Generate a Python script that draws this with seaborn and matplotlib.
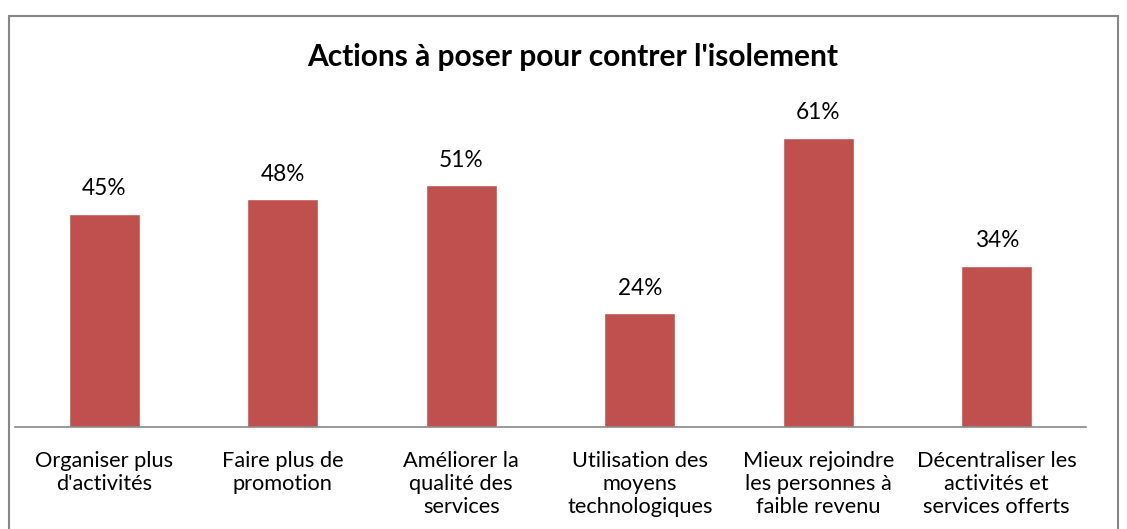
import matplotlib
matplotlib.use("Agg")
import matplotlib.pyplot as plt
import matplotlib.patches as mpatches
import seaborn as sns
import pandas as pd

# Donnees
categories = [
    "Organiser plus\nd'activités",
    "Faire plus de\npromotion",
    "Améliorer la\nqualité des\nservices",
    "Utilisation des\nmoyens\ntechnologiques",
    "Mieux rejoindre\nles personnes à\nfaible revenu",
    "Décentraliser les\nactivités et\nservices offerts",
]
valeurs = [0.45, 0.48, 0.51, 0.24, 0.61, 0.34]

df = pd.DataFrame({"action": categories, "pct": valeurs})

sns.set_style("white")
plt.rcParams["font.family"] = ["Lato", "DejaVu Sans"]

W, H = 1127, 529
fig = plt.figure(figsize=(W / 100, H / 100), dpi=100)
ax = fig.add_axes([15 / W, (H - 427) / H, (1086 - 15) / W, (427 - 95) / H])

sns.barplot(data=df, x="action", y="pct", color="#C0504D", width=0.40,
            saturation=1, ax=ax)

ax.set_ylim(0, 0.70)
ax.set_xlim(-0.5, len(categories) - 0.5)
ax.set_xlabel("")
ax.set_ylabel("")
ax.set_yticks([])
ax.tick_params(axis="x", length=0, pad=17, labelsize=15.7, labelcolor="#000000")
for lbl in ax.get_xticklabels():
    lbl.set_linespacing(1.2)
    lbl.set_verticalalignment("top")
for s in ["top", "right", "left"]:
    ax.spines[s].set_visible(False)
ax.spines["bottom"].set_color("#888888")
ax.spines["bottom"].set_linewidth(1.2)

for i, v in enumerate(valeurs):
    ax.annotate(f"{round(v * 100)}%", (i, v), xytext=(0, 18),
                textcoords="offset points", ha="center", va="center",
                fontsize=16.3, color="#000000")

fig.text(573 / W, 1 - 57 / H, "Actions à poser pour contrer l'isolement",
         ha="center", va="center", fontsize=21.5, fontweight="bold",
         color="#000000")

# cadre du graphique
fig.patches.append(mpatches.Rectangle((8.5 / W, -0.2), (1117.5 - 8.5) / W,
                                      1.2 - 15.5 / H, transform=fig.transFigure,
                                      fill=False, edgecolor="#878787", linewidth=1.5))

fig.savefig("out.png", dpi=100, facecolor="white")
